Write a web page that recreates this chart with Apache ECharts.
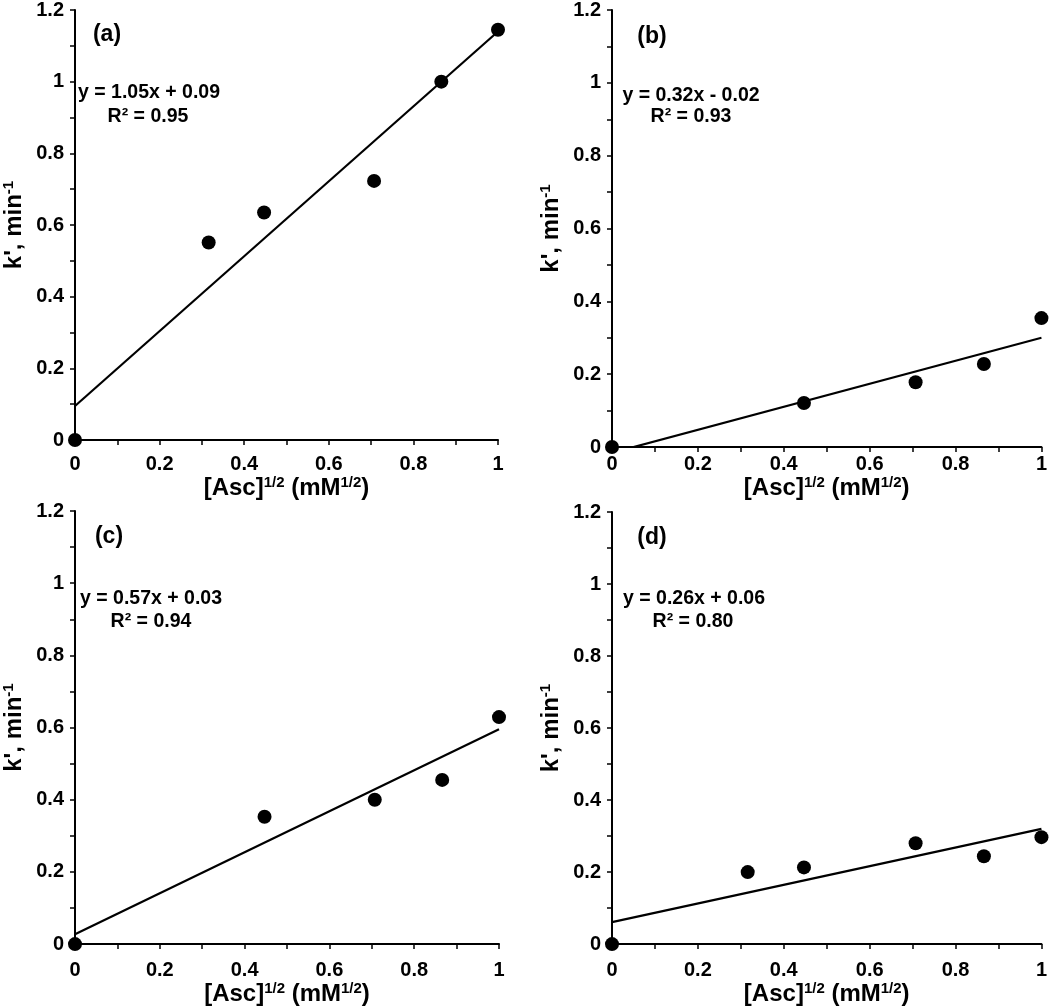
<!DOCTYPE html>
<html>
<head>
<meta charset="utf-8">
<script src="https://cdn.jsdelivr.net/npm/echarts@6/dist/echarts.min.js"></script>
<style>html,body{margin:0;padding:0;background:#fff}#c{width:1050px;height:1007px}</style>
</head>
<body>
<div id="c"></div>
<script>
// ---- data ----
const panelLabels = ['(a)', '(b)', '(c)', '(d)'];
const equations = ['y = 1.05x + 0.09', 'y = 0.32x - 0.02', 'y = 0.57x + 0.03', 'y = 0.26x + 0.06'];
const r2Texts = ['R\u00b2 = 0.95', 'R\u00b2 = 0.93', 'R\u00b2 = 0.94', 'R\u00b2 = 0.80'];

const xA = [0, 0.316, 0.447, 0.707, 0.866, 1];
const yA = [0, 0.551, 0.635, 0.723, 1.00, 1.145];
const xB = [0, 0.447, 0.707, 0.866, 1];
const yB = [0, 0.121, 0.178, 0.228, 0.354];
const xC = [0, 0.447, 0.707, 0.866, 1];
const yC = [0, 0.353, 0.400, 0.455, 0.629];
const xD = [0, 0.316, 0.447, 0.707, 0.866, 1];
const yD = [0, 0.200, 0.213, 0.280, 0.244, 0.297];

// trend line end points [x, y]
const fitA = [[0, 0.095], [1, 1.14]];
const fitB = [[0, -0.016], [1, 0.30]];
const fitC = [[0, 0.027], [1, 0.595]];
const fitD = [[0, 0.061], [1, 0.32]];

const xTicks = { min: 0, max: 1, interval: 0.2 };
const yTicks = { min: 0, max: 1.2, interval: 0.2 };

// ---- layout ----
const FONT = '"Liberation Sans", Arial, sans-serif';
const grids = [
  { left: 69, top: 7, width: 429, height: 433 },
  { left: 612, top: 10, width: 431, height: 437 },
  { left: 71, top: 511, width: 428, height: 435 },
  { left: 612, top: 512, width: 431, height: 433 }
];
const xLabelMargin = [14, 7, 16, 16];
const xNameGap = [30, 18, 33, 34];
const yNameGap = [48, 48, 48, 48];

const richName = {
  n: { fontFamily: FONT, fontWeight: 'bold', fontSize: 24, color: '#000', lineHeight: 26 },
  s: { fontFamily: FONT, fontWeight: 'bold', fontSize: 15, color: '#000', lineHeight: 15, verticalAlign: 'top' }
};

function pairs(xs, ys) { return xs.map((x, i) => [x, ys[i]]); }
const pts = [pairs(xA, yA), pairs(xB, yB), pairs(xC, yC), pairs(xD, yD)];
const fits = [fitA, fitB, fitC, fitD];

const xAxis = [], yAxis = [], series = [];
grids.forEach((g, i) => {
  const axLine = { show: true, onZero: false, lineStyle: { color: '#000', width: 2 } };
  xAxis.push({
    gridIndex: i, type: 'value', min: xTicks.min, max: xTicks.max, interval: xTicks.interval,
    axisLine: axLine,
    axisTick: { show: true, length: 5, lineStyle: { color: '#000', width: 1.5 } },
    minorTick: { show: true, splitNumber: 2, length: 5, lineStyle: { color: '#000', width: 1.5 } },
    splitLine: { show: false },
    axisLabel: { margin: xLabelMargin[i], fontFamily: FONT, fontWeight: 'bold', fontSize: 20, color: '#000' },
    name: '{n|[Asc]}{s|1/2}{n| (mM}{s|1/2}{n|)}',
    nameLocation: 'middle', nameGap: xNameGap[i],
    nameTextStyle: { rich: richName }
  });
  yAxis.push({
    gridIndex: i, type: 'value', min: yTicks.min, max: yTicks.max, interval: yTicks.interval,
    axisLine: axLine,
    axisTick: { show: true, length: 5, lineStyle: { color: '#000', width: 1.5 } },
    minorTick: { show: true, splitNumber: 2, length: 5, lineStyle: { color: '#000', width: 1.5 } },
    splitLine: { show: false },
    axisLabel: { margin: 11, fontFamily: FONT, fontWeight: 'bold', fontSize: 20, color: '#000' },
    name: "{n|k', min}{s|-1}",
    nameLocation: 'middle', nameGap: yNameGap[i], nameRotate: 90,
    nameTextStyle: { rich: richName }
  });
  series.push({
    type: 'line', xAxisIndex: i, yAxisIndex: i, data: fits[i], showSymbol: false, symbol: 'none',
    clip: true, lineStyle: { color: '#000', width: 2.2 }, z: 2, animation: false
  });
  series.push({
    type: 'scatter', xAxisIndex: i, yAxisIndex: i, data: pts[i], symbol: 'circle', symbolSize: 14,
    itemStyle: { color: '#000', opacity: 1 }, clip: false, z: 3, animation: false
  });
});

const labelPos = [[107, 35], [652, 37], [109, 537], [652, 538]];
const eqPos = [[149, 93], [691, 96], [151, 599], [694, 599]];
const r2Pos = [[148, 117], [691, 117], [151, 622], [693, 622]];
const graphic = [];
for (let i = 0; i < 4; i++) {
  graphic.push({ type: 'text', x: labelPos[i][0], y: labelPos[i][1], style: { text: panelLabels[i], font: 'bold 23px ' + FONT, fill: '#000', align: 'center', verticalAlign: 'middle' } });
  graphic.push({ type: 'text', x: eqPos[i][0], y: eqPos[i][1], style: { text: equations[i], font: 'bold 19.5px ' + FONT, fill: '#000', align: 'center', verticalAlign: 'middle' } });
  graphic.push({ type: 'text', x: r2Pos[i][0], y: r2Pos[i][1], style: { text: r2Texts[i], font: 'bold 19.5px ' + FONT, fill: '#000', align: 'center', verticalAlign: 'middle' } });
}

const chart = echarts.init(document.getElementById('c'), null, { renderer: 'canvas' });
chart.setOption({
  backgroundColor: '#fff',
  animation: false,
  grid: grids.map(g => Object.assign({ containLabel: false }, g)),
  xAxis, yAxis, series, graphic
});
</script>
</body>
</html>
